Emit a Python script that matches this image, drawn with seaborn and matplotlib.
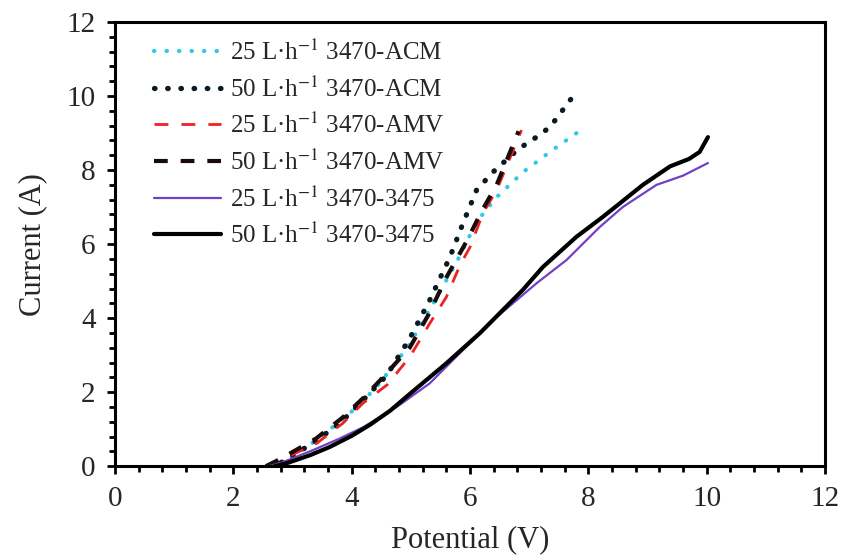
import matplotlib
matplotlib.use("Agg")
import matplotlib.pyplot as plt
import seaborn as sns
from matplotlib.ticker import MultipleLocator

sns.set_theme(style="white")
plt.rcParams["font.family"] = ["Liberation Serif", "DejaVu Serif"]
plt.rcParams["mathtext.fontset"] = "stix"

# 25 L/h, 3470-ACM
acm25_x = [2.6, 2.9, 3.4, 3.97, 4.4, 4.7, 4.98, 5.44, 5.8, 6.11, 6.45, 6.9, 7.4, 7.89]
acm25_y = [0.0, 0.16, 0.7, 1.43, 2.1, 2.7, 3.3, 4.57, 5.6, 6.6, 7.27, 7.95, 8.55, 9.1]
# 50 L/h, 3470-ACM
acm50_x = [2.6, 2.79, 3.34, 3.8, 4.19, 4.59, 4.98, 5.32, 5.66, 5.88, 6.11, 6.39, 6.84, 7.0, 7.35, 7.72]
acm50_y = [0.0, 0.08, 0.62, 1.16, 1.78, 2.45, 3.45, 4.49, 5.65, 6.56, 7.46, 7.95, 8.6, 8.75, 9.16, 9.95]
# 25 L/h, 3470-AMV
amv25_x = [2.55, 2.79, 3.41, 3.85, 4.19, 4.6, 4.98, 5.15, 5.32, 5.6, 5.83, 6.0, 6.22, 6.45, 6.87]
amv25_y = [0.0, 0.16, 0.62, 1.16, 1.7, 2.2, 2.95, 3.4, 3.86, 4.57, 5.43, 5.92, 6.84, 7.46, 9.08]
# 50 L/h, 3470-AMV
amv50_x = [2.55, 2.8, 3.4, 3.85, 4.2, 4.48, 4.98, 5.3, 5.6, 5.95, 6.2, 6.45, 6.82]
amv50_y = [0.0, 0.2, 0.75, 1.32, 1.85, 2.32, 3.2, 4.1, 5.1, 6.1, 6.9, 7.6, 9.05]
# 25 L/h, 3470-3475
s25_x = [2.6, 2.79, 3.34, 3.8, 4.19, 4.76, 5.32, 5.88, 6.45, 7.13, 7.63, 8.19, 8.58, 9.15, 9.6, 10.02]
s25_y = [0.0, 0.08, 0.43, 0.75, 1.05, 1.6, 2.24, 3.14, 4.03, 4.95, 5.57, 6.46, 7.0, 7.6, 7.85, 8.19]
# 50 L/h, 3470-3475
s50_x = [2.7, 2.9, 3.3, 3.63, 4.0, 4.31, 4.65, 4.98, 5.6, 6.17, 6.89, 7.23, 7.8, 8.24, 8.53, 8.92, 9.38, 9.7, 9.88, 10.02]
s50_y = [0.0, 0.08, 0.3, 0.52, 0.82, 1.12, 1.5, 1.95, 2.78, 3.6, 4.76, 5.38, 6.2, 6.73, 7.1, 7.6, 8.1, 8.3, 8.49, 8.89]

labels = [
    "25 L·h$^{-1}$ 3470-ACM",
    "50 L·h$^{-1}$ 3470-ACM",
    "25 L·h$^{-1}$ 3470-AMV",
    "50 L·h$^{-1}$ 3470-AMV",
    "25 L·h$^{-1}$ 3470-3475",
    "50 L·h$^{-1}$ 3470-3475",
]

series = [
    (acm25_x, acm25_y, dict(color="#2ec8e8", lw=3.0, linestyle=(0, (0.1, 2.9)), dash_capstyle="round")),
    (acm50_x, acm50_y, dict(color="#0a1a22", lw=3.8, linestyle=(0, (0.1, 2.4)), dash_capstyle="round")),
    (amv25_x, amv25_y, dict(color="#ee2222", lw=2.0, linestyle=(0, (5, 4.7)))),
    (amv50_x, amv50_y, dict(color="#1a0a0a", lw=3.0, linestyle=(0, (3.3, 3.1)))),
    (s25_x, s25_y, dict(color="#7040c8", lw=1.6, linestyle="-")),
    (s50_x, s50_y, dict(color="black", lw=3.0, linestyle="-")),
]

fig, ax = plt.subplots(figsize=(8.48, 5.57), dpi=100)
fig.subplots_adjust(left=0.1356, right=0.973, bottom=0.163, top=0.9605)

for (xs, ys, style), lab in zip(series, labels):
    sns.lineplot(x=xs, y=ys, ax=ax, sort=False, label=lab, **style)

ax.set_xlim(0, 12)
ax.set_ylim(0, 12)
ax.xaxis.set_major_locator(MultipleLocator(2))
ax.yaxis.set_major_locator(MultipleLocator(2))
ax.xaxis.set_minor_locator(MultipleLocator(0.4))
ax.yaxis.set_minor_locator(MultipleLocator(0.4))
ax.tick_params(which="both", direction="out", bottom=True, left=True, top=False, right=False,
               color="black", width=2.0)
ax.tick_params(which="major", length=6, labelsize=21, pad=8)
ax.tick_params(which="minor", length=4)
for s in ax.spines.values():
    s.set_color("black")
    s.set_linewidth(2.2)

ax.set_xlabel("Potential (V)", fontsize=22, labelpad=10)
ax.set_ylabel("Current (A)", fontsize=22, labelpad=14)

ax.legend(loc="upper left", frameon=False, fontsize=18, handlelength=2.7,
          labelspacing=0.45, handletextpad=0.35, borderaxespad=0.3,
          bbox_to_anchor=(0.03, 1.0))

fig.savefig("out.png", dpi=100)
